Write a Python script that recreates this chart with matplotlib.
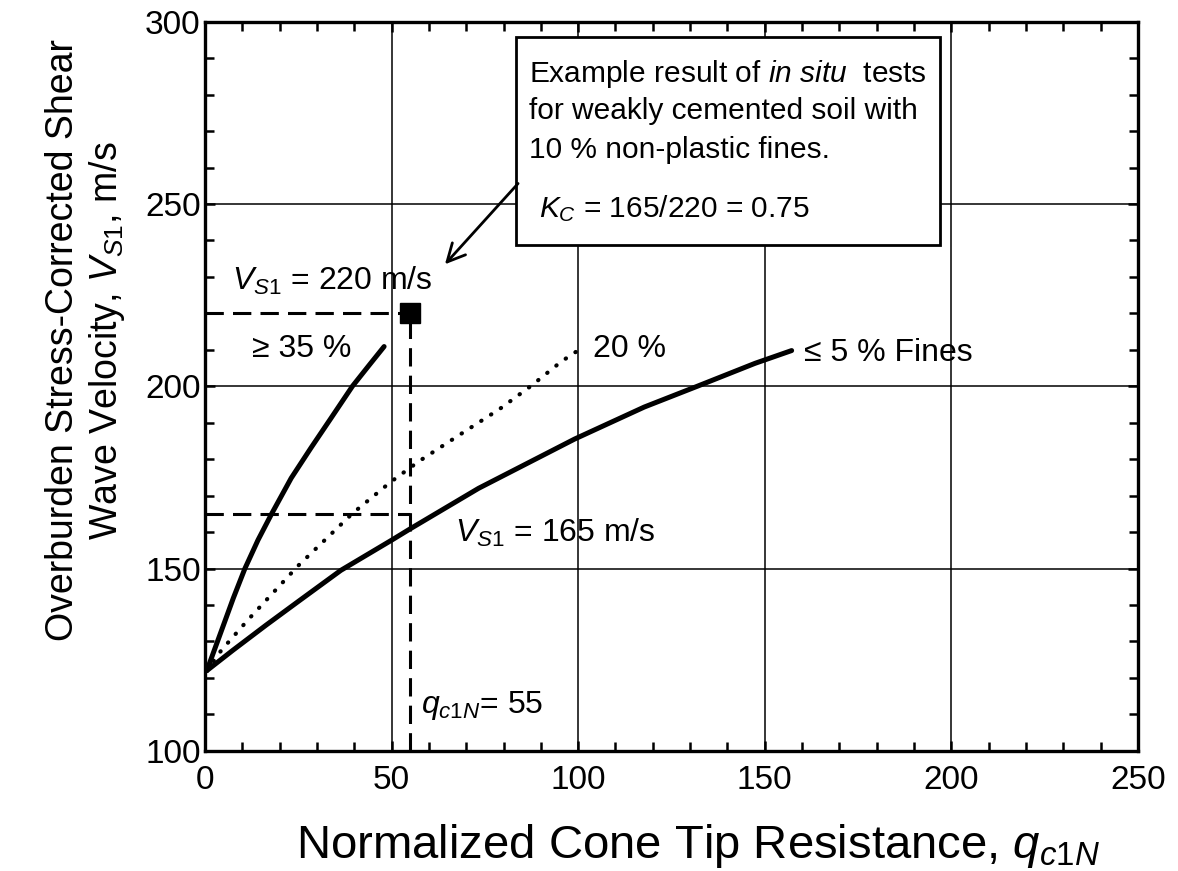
import matplotlib
matplotlib.use("Agg")
import matplotlib.pyplot as plt
from matplotlib.patches import Rectangle
from matplotlib.ticker import MultipleLocator

# ==========================================
# DATA
# ==========================================

# <= 5 % fines curve
fines5_q = [0.5, 7.5, 16.4, 25.3, 36.4, 50.2, 55, 73.3, 99, 117.7, 131.9, 147.4, 157.2]
fines5_v = [122, 127.6, 134.5, 141.2, 149.5, 157.9, 160.9, 172, 185.5, 194.3, 200, 206.3, 209.8]

# 20 % fines curve (dotted)
fines20_q = [0.5, 4.4, 11.5, 18.2, 24.9, 32, 39.5, 49.7, 57.3, 68.4, 79, 87.5, 95.5, 100.8]
fines20_v = [122, 127.6, 135.9, 143.3, 150.7, 157.7, 165.1, 173.7, 179.4, 186.8, 193.8, 200.2, 206.8, 210.4]

# >= 35 % fines curve
fines35_q = [0.5, 4.0, 7.6, 10.7, 14.2, 17.8, 23.1, 28.4, 33.8, 39.5, 44.0, 48.0]
fines35_v = [122, 131.8, 141.9, 150, 157.8, 164.9, 174.8, 183.1, 191.3, 200, 205.8, 210.9]

# example test result
test_q = 55
test_v = 220
corrected_v = 165

x_ticks = [0, 50, 100, 150, 200, 250]
y_ticks = [100, 150, 200, 250, 300]

# ==========================================
# FONTS
# ==========================================

plt.rcParams['font.family'] = ['Liberation Sans', 'DejaVu Sans']
plt.rcParams['mathtext.fontset'] = 'custom'
plt.rcParams['mathtext.rm'] = 'Liberation Sans'
plt.rcParams['mathtext.it'] = 'Liberation Sans:italic'
plt.rcParams['mathtext.bf'] = 'Liberation Sans:bold'

# ==========================================
# FIGURE
# ==========================================

fig = plt.figure(figsize=(11.78, 8.71), dpi=100)
ax = fig.add_axes([0.174, 0.138, 0.792, 0.837])

ax.set_xlim(0, 250)
ax.set_ylim(100, 300)
ax.set_xticks(x_ticks)
ax.set_yticks(y_ticks)
ax.xaxis.set_minor_locator(MultipleLocator(10))
ax.yaxis.set_minor_locator(MultipleLocator(10))

ax.tick_params(which='both', direction='in', top=True, right=True,
               width=1.8, color='black')
ax.tick_params(which='major', length=7, labelsize=24)
ax.tick_params(which='minor', length=6.5)
ax.tick_params(axis='x', which='major', pad=10)
ax.tick_params(axis='y', which='major', pad=3)

for s in ax.spines.values():
    s.set_linewidth(2.4)

ax.grid(True, which='major', color='black', linewidth=1.1)
ax.set_axisbelow(True)

# curves
ax.plot(fines5_q, fines5_v, color='black', linewidth=3.6,
        solid_capstyle='round', solid_joinstyle='round')
ax.plot(fines35_q, fines35_v, color='black', linewidth=3.6,
        solid_capstyle='round', solid_joinstyle='round')
ax.plot(fines20_q, fines20_v, color='black', linewidth=3.0,
        linestyle=(0, (0.1, 2.7)), dash_capstyle='round')

# dashed construction lines
dash = (0, (6, 3))
ax.plot([0, test_q], [test_v, test_v], color='black', linewidth=2.2, linestyle=dash)
ax.plot([0, test_q], [corrected_v, corrected_v], color='black', linewidth=2.2, linestyle=dash)
ax.plot([test_q, test_q], [100, test_v], color='black', linewidth=2.2, linestyle=dash)
ax.plot([test_q], [test_v], marker='s', markersize=14.5, color='black', linestyle='none')

# labels on curves
lab = 23
ax.text(12.5, 207.9, '≥ 35 %', fontsize=lab, va='baseline', ha='left')
ax.text(103.9, 207.9, '20 %', fontsize=lab, va='baseline', ha='left')
ax.text(160.6, 207.0, '≤ 5 % Fines', fontsize=lab, va='baseline', ha='left')
ax.text(7.2, 226.5, r'$V_{S1}$ = 220 m/s', fontsize=lab, va='baseline', ha='left')
ax.text(67.0, 157.2, r'$V_{S1}$ = 165 m/s', fontsize=lab, va='baseline', ha='left')
ax.text(57.8, 110.4, r'$q_{c1N}$= 55', fontsize=lab, va='baseline', ha='left')

# note box
box = 21.5
ax.add_patch(Rectangle((83.4, 238.8), 197 - 83.4, 295.9 - 238.8,
                       facecolor='white', edgecolor='black', linewidth=2, zorder=4))
ax.text(86.9, 283.6, r'Example result of $in\ situ$  tests', fontsize=box,
        va='baseline', ha='left', zorder=5)
ax.text(86.9, 273.2, 'for weakly cemented soil with', fontsize=box,
        va='baseline', ha='left', zorder=5)
ax.text(86.9, 262.7, '10 % non-plastic fines.', fontsize=box,
        va='baseline', ha='left', zorder=5)
ax.text(89.6, 246.3, r'$K_C$ = 165/220 = 0.75', fontsize=box,
        va='baseline', ha='left', zorder=5)

ax.annotate('', xy=(63.8, 232.9), xytext=(84.4, 256.2),
            arrowprops=dict(arrowstyle='->', color='black', linewidth=2,
                            mutation_scale=32), zorder=5)

ax.set_xlabel(r'Normalized Cone Tip Resistance, $q_{c1N}$', fontsize=34)
ax.xaxis.set_label_coords(0.528, -0.098)
ax.set_ylabel('Overburden Stress-Corrected Shear\n'
              r'Wave Velocity, $V_{S1}$, m/s', fontsize=27, linespacing=1.2)
ax.yaxis.set_label_coords(-0.084, 0.563)

fig.savefig('out.png', dpi=100)
